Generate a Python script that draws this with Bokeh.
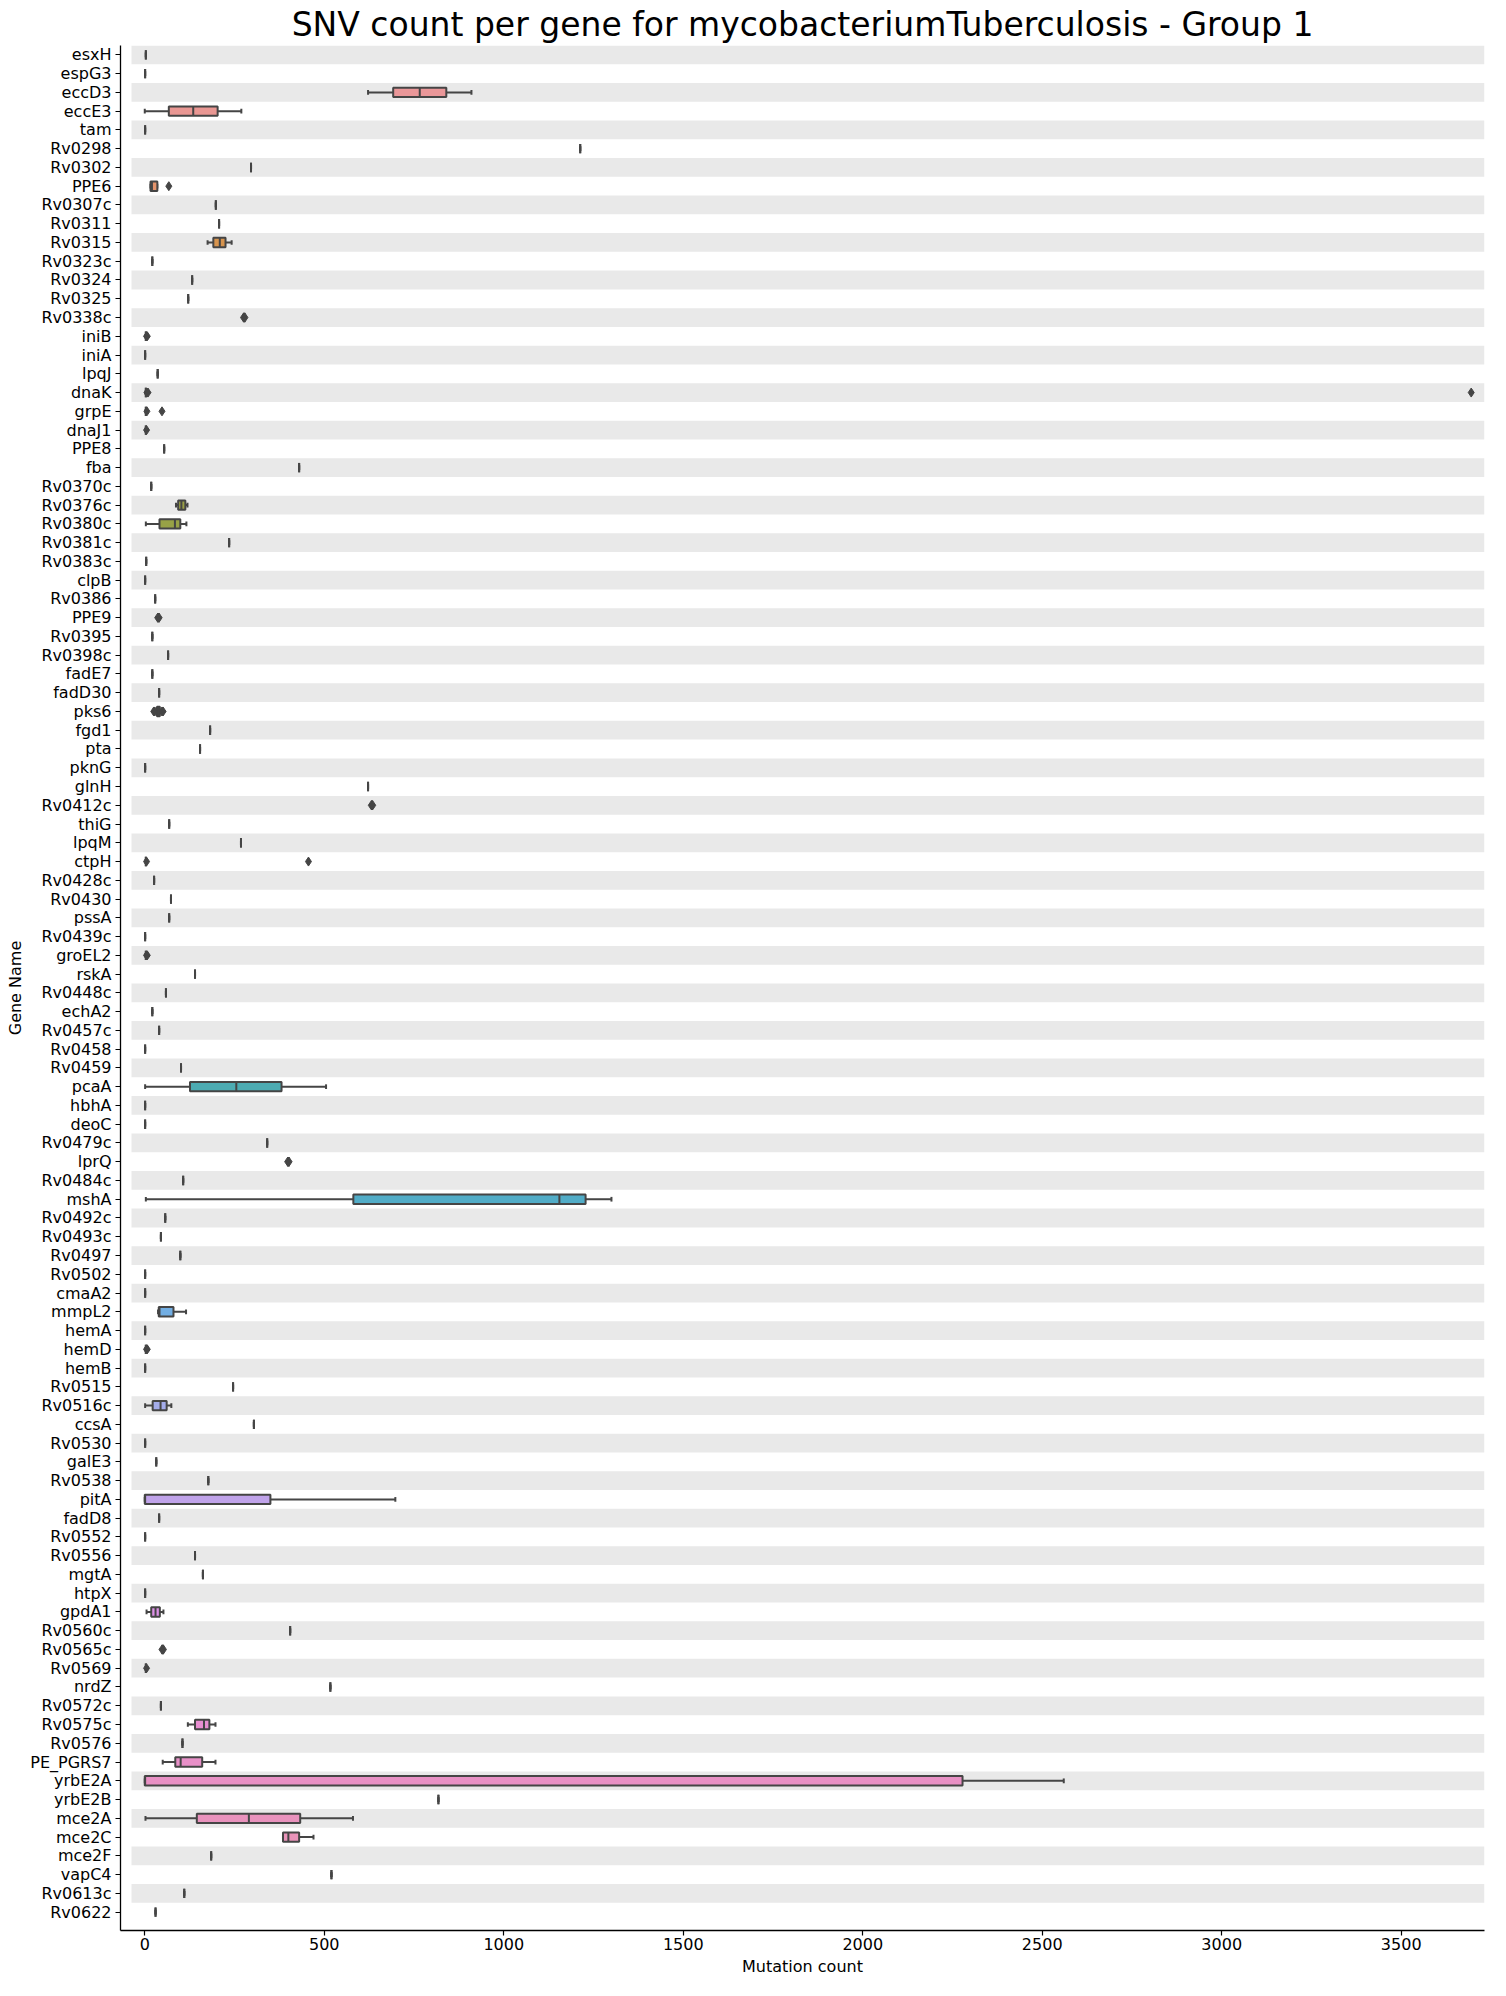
import math
import colorsys
from bokeh.plotting import figure
from bokeh.models import Range1d, FixedTicker, ColumnDataSource
from bokeh.embed import file_html
from bokeh.resources import INLINE

# ---------------- data ----------------
genes = ["esxH", "espG3", "eccD3", "eccE3", "tam", "Rv0298", "Rv0302", "PPE6", "Rv0307c", "Rv0311",
         "Rv0315", "Rv0323c", "Rv0324", "Rv0325", "Rv0338c", "iniB", "iniA", "lpqJ", "dnaK", "grpE",
         "dnaJ1", "PPE8", "fba", "Rv0370c", "Rv0376c", "Rv0380c", "Rv0381c", "Rv0383c", "clpB", "Rv0386",
         "PPE9", "Rv0395", "Rv0398c", "fadE7", "fadD30", "pks6", "fgd1", "pta", "pknG", "glnH",
         "Rv0412c", "thiG", "lpqM", "ctpH", "Rv0428c", "Rv0430", "pssA", "Rv0439c", "groEL2", "rskA",
         "Rv0448c", "echA2", "Rv0457c", "Rv0458", "Rv0459", "pcaA", "hbhA", "deoC", "Rv0479c", "lprQ",
         "Rv0484c", "mshA", "Rv0492c", "Rv0493c", "Rv0497", "Rv0502", "cmaA2", "mmpL2", "hemA", "hemD",
         "hemB", "Rv0515", "Rv0516c", "ccsA", "Rv0530", "galE3", "Rv0538", "pitA", "fadD8", "Rv0552",
         "Rv0556", "mgtA", "htpX", "gpdA1", "Rv0560c", "Rv0565c", "Rv0569", "nrdZ", "Rv0572c", "Rv0575c",
         "Rv0576", "PE_PGRS7", "yrbE2A", "yrbE2B", "mce2A", "mce2C", "mce2F", "vapC4", "Rv0613c", "Rv0622"]

whisk_lo = [3, 1, 622, 0, 1, 1213, 296, 16, 198, 207,
            175, 21, 132, 121, 277, 3, 1, 36, 3, 3,
            3, 54, 430, 18, 87, 3, 235, 4, 1, 29,
            38, 21, 65, 21, 40, 31, 182, 154, 1, 622,
            633, 68, 268, 3, 26, 73, 68, 1, 3, 140,
            59, 21, 40, 1, 101, 1, 1, 1, 341, 400,
            107, 3, 57, 45, 99, 1, 1, 37, 1, 3,
            1, 246, 1, 304, 1, 32, 177, 0, 40, 1,
            140, 162, 1, 5, 405, 50, 3, 517, 45, 120,
            105, 50, 0, 818, 2, 385, 185, 520, 110, 30]

q1 = [3, 1, 692, 67, 1, 1213, 296, 16, 198, 207,
      191, 21, 132, 121, 277, 3, 1, 36, 3, 3,
      3, 54, 430, 18, 93, 41, 235, 4, 1, 29,
      38, 21, 65, 21, 40, 34, 182, 154, 1, 622,
      633, 68, 268, 3, 26, 73, 68, 1, 3, 140,
      59, 21, 40, 1, 101, 126, 1, 1, 341, 400,
      107, 581, 57, 45, 99, 1, 1, 39, 1, 3,
      1, 246, 22, 304, 1, 32, 177, 0, 40, 1,
      140, 162, 1, 18, 405, 50, 3, 517, 45, 140,
      105, 85, 0, 818, 145, 385, 185, 520, 110, 30]

med = [3, 1, 766, 135, 1, 1213, 296, 20, 198, 207,
       209, 21, 132, 121, 277, 3, 1, 36, 3, 3,
       3, 54, 430, 18, 102, 84, 235, 4, 1, 29,
       38, 21, 65, 21, 40, 38, 182, 154, 1, 622,
       633, 68, 268, 3, 26, 73, 68, 1, 3, 140,
       59, 21, 40, 1, 101, 255, 1, 1, 341, 400,
       107, 1155, 57, 45, 99, 1, 1, 41, 1, 3,
       1, 246, 44, 304, 1, 32, 177, 1, 40, 1,
       140, 162, 1, 30, 405, 50, 3, 517, 45, 165,
       105, 100, 1, 818, 290, 400, 185, 520, 110, 30]

q3 = [3, 1, 840, 203, 1, 1213, 296, 35, 198, 207,
      225, 21, 132, 121, 277, 3, 1, 36, 3, 3,
      3, 54, 430, 18, 113, 99, 235, 4, 1, 29,
      38, 21, 65, 21, 40, 42, 182, 154, 1, 622,
      633, 68, 268, 3, 26, 73, 68, 1, 3, 140,
      59, 21, 40, 1, 101, 381, 1, 1, 341, 400,
      107, 1228, 57, 45, 99, 1, 1, 80, 1, 3,
      1, 246, 61, 304, 1, 32, 177, 350, 40, 1,
      140, 162, 1, 42, 405, 50, 3, 517, 45, 180,
      105, 160, 2278, 818, 433, 430, 185, 520, 110, 30]

whisk_hi = [3, 1, 910, 269, 1, 1213, 296, 35, 198, 207,
            242, 21, 132, 121, 277, 3, 1, 36, 3, 3,
            3, 54, 430, 18, 119, 116, 235, 4, 1, 29,
            38, 21, 65, 21, 40, 45, 182, 154, 1, 622,
            633, 68, 268, 3, 26, 73, 68, 1, 3, 140,
            59, 21, 40, 1, 101, 505, 1, 1, 341, 400,
            107, 1300, 57, 45, 99, 1, 1, 115, 1, 3,
            1, 246, 74, 304, 1, 32, 177, 698, 40, 1,
            140, 162, 1, 52, 405, 50, 3, 517, 45, 197,
            105, 197, 2560, 818, 580, 470, 185, 520, 110, 30]

outliers = [[], [], [], [], [], [], [], [67], [], [],
            [], [], [], [], [275, 279], [5, 7], [], [], [6, 9, 3695], [6, 48],
            [5], [], [], [], [], [], [], [], [], [],
            [36, 40], [], [], [], [], [25, 28, 48, 51], [], [], [], [],
            [631, 635], [], [], [5, 456], [], [], [], [], [5, 7], [],
            [], [], [], [], [], [], [], [], [], [398, 402],
            [], [], [], [], [], [], [], [], [], [5, 7],
            [], [], [], [], [], [], [], [], [], [],
            [], [], [], [], [], [48, 52], [5], [], [], [],
            [], [], [], [], [], [], [], [], [], []]

x_ticks = [0, 500, 1000, 1500, 2000, 2500, 3000, 3500]

# ---------------- husl palette (as seaborn) ----------------
_M = [[3.2406, -1.5372, -0.4986], [-0.9689, 1.8758, 0.0415], [0.0557, -0.2040, 1.0570]]
_refU, _refV = 0.19784, 0.46834


def _max_chroma(L, H):
    hrad = math.radians(H)
    sinH, cosH = math.sin(hrad), math.cos(hrad)
    sub1 = (L + 16) ** 3 / 1560896.0
    sub2 = sub1 if sub1 > 0.008856 else L / 903.3
    result = float("inf")
    for m1, m2, m3 in _M:
        top = (0.99915 * m1 + 1.05122 * m2 + 1.14460 * m3) * sub2
        rbottom = 0.86330 * m3 - 0.17266 * m2
        lbottom = 0.12949 * m3 - 0.38848 * m1
        bottom = (rbottom * sinH + lbottom * cosH) * sub2
        for t in (0.0, 1.0):
            C = L * (top - 1.05122 * t) / (bottom + 0.17266 * sinH * t)
            if 0.0 < C < result:
                result = C
    return result


def _f_inv(t):
    return t ** 3 if t ** 3 > 0.008856 else (116.0 * t - 16.0) / 903.3


def _from_linear(c):
    return 12.92 * c if c <= 0.0031308 else 1.055 * c ** (1 / 2.4) - 0.055


def husl_to_rgb(h, s, l):
    C = _max_chroma(l, h) / 100.0 * s
    hr = math.radians(h)
    U, V = math.cos(hr) * C, math.sin(hr) * C
    varY = _f_inv((l + 16.0) / 116.0)
    varU = U / (13.0 * l) + _refU
    varV = V / (13.0 * l) + _refV
    Y = varY
    X = 0.0 - (9.0 * Y * varU) / ((varU - 4.0) * varV - varU * varV)
    Z = (9.0 * Y - 15.0 * varV * Y - varV * X) / (3.0 * varV)
    rgb = [_from_linear(r[0] * X + r[1] * Y + r[2] * Z) for r in _M]
    return [min(max(c, 0.0), 1.0) for c in rgb]


def desaturate(rgb, prop):
    h, l, s = colorsys.rgb_to_hls(*rgb)
    return colorsys.hls_to_rgb(h, l, s * prop)


def to_hex(c):
    return "#%02x%02x%02x" % tuple(int(round(v * 255)) for v in c)


n = len(genes)
hues = [(((i / n) + 0.01) % 1.0) * 359 for i in range(n)]
rgb_cols = [desaturate(husl_to_rgb(h, 0.9 * 99, 0.7 * 99), 0.75) for h in hues]
box_colors = [to_hex(c) for c in rgb_cols]
lum = min(colorsys.rgb_to_hls(*c)[1] for c in rgb_cols) * 0.6
gray = to_hex((lum, lum, lum))

# ---------------- figure ----------------
band_left, x_right = -37.0, 3732.0
x_left = -67.6

p = figure(width=1490, height=1980, output_backend="svg", toolbar_location=None,
           x_range=Range1d(x_left, x_right), y_range=Range1d(99.98, -0.5),
           min_border_left=120, min_border_right=6, min_border_top=39, min_border_bottom=50,
           title="SNV count per gene for mycobacteriumTuberculosis - Group 1")
p.title.text_font = "DejaVu Sans"
p.title.text_font_size = "33px"
p.title.text_font_style = "normal"
p.title.text_color = "black"
p.title.align = "center"
p.title.standoff = 4
p.outline_line_color = None
p.xgrid.visible = False
p.ygrid.visible = False
p.background_fill_color = "white"

idx = list(range(n))

# alternating bands
band_y = [i for i in idx if i % 2 == 0]
p.hbar(y=band_y, left=band_left, right=x_right, height=1.0,
       fill_color="#e9e9e9", line_color=None)

src = ColumnDataSource(dict(y=idx, lo=whisk_lo, q1=q1, med=med, q3=q3, hi=whisk_hi,
                            color=box_colors,
                            ytop=[i - 0.25 for i in idx], ybot=[i + 0.25 for i in idx],
                            ctop=[i - 0.125 for i in idx], cbot=[i + 0.125 for i in idx]))

lw = 2
# whiskers
p.segment(x0="lo", y0="y", x1="q1", y1="y", source=src, line_color=gray, line_width=lw)
p.segment(x0="q3", y0="y", x1="hi", y1="y", source=src, line_color=gray, line_width=lw)
# caps
p.segment(x0="lo", y0="ctop", x1="lo", y1="cbot", source=src, line_color=gray, line_width=lw)
p.segment(x0="hi", y0="ctop", x1="hi", y1="cbot", source=src, line_color=gray, line_width=lw)
# boxes
p.hbar(y="y", left="q1", right="q3", height=0.5, source=src, fill_color="color",
       line_color=gray, line_width=lw)
# medians
p.segment(x0="med", y0="ytop", x1="med", y1="ybot", source=src, line_color=gray, line_width=lw)

# fliers
ox, oy = [], []
for i, vals in enumerate(outliers):
    for v in vals:
        ox.append(v)
        oy.append(i)
p.scatter(x=ox, y=oy, marker="diamond", size=9, fill_color=gray, line_color=gray, line_width=1)

# axes
p.yaxis.ticker = FixedTicker(ticks=idx)
p.yaxis.major_label_overrides = {i: g for i, g in enumerate(genes)}
p.xaxis.ticker = FixedTicker(ticks=x_ticks)
for ax in (p.xaxis, p.yaxis):
    ax.minor_tick_line_color = None
    ax.major_tick_in = 0
    ax.major_tick_out = 5
    ax.major_tick_line_color = "black"
    ax.major_tick_line_width = 1.2
    ax.axis_line_color = "black"
    ax.axis_line_width = 1.3
    ax.major_label_text_font = "DejaVu Sans"
    ax.major_label_text_font_size = "16px"
    ax.major_label_text_color = "black"
    ax.axis_label_text_font = "DejaVu Sans"
    ax.axis_label_text_font_size = "16px"
    ax.axis_label_text_font_style = "normal"
    ax.axis_label_text_color = "black"
p.xaxis.major_label_standoff = 2
p.xaxis.axis_label_standoff = 4
p.yaxis.major_label_standoff = 4
p.yaxis.axis_label_standoff = 2
p.xaxis.axis_label = "Mutation count"
p.yaxis.axis_label = "Gene Name"

open("out.html", "w").write(file_html(p, INLINE))
